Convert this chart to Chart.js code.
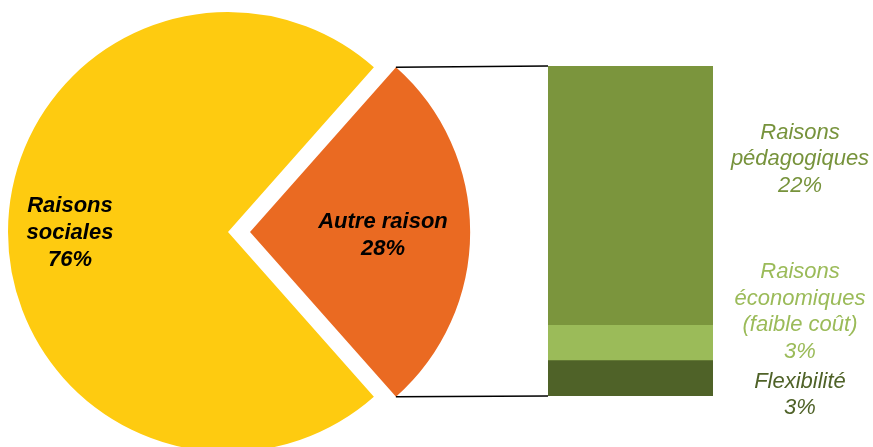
<!DOCTYPE html>
<html>
<head>
<meta charset="utf-8">
<script src="https://cdn.jsdelivr.net/npm/chart.js@4.4.0/dist/chart.umd.min.js"></script>
<style>
body { margin: 0; background: #fff; overflow: hidden; }
#wrap { position: relative; width: 873px; height: 447px; }
canvas { position: absolute; left: 0; top: 0; }
</style>
</head>
<body>
<div id="wrap">
    <canvas id="pieChart" width="873" height="447"></canvas>
    <canvas id="barChart" width="873" height="447"></canvas>
</div>
<script>
// data
const pieLabels = ['Raisons sociales', 'Autre raison'];
const pieValues = [76, 28];
const pieLabelLines = [['Raisons', 'sociales'], ['Autre raison']];

const barLabels = ['Flexibilité', 'Raisons économiques (faible coût)', 'Raisons pédagogiques'];
const barValues = [3, 3, 22];
const barLabelLines = [['Flexibilité'], ['Raisons', 'économiques', '(faible coût)'], ['Raisons', 'pédagogiques']];

// styles / layout
const pieColors = ['#FECB10', '#EA6A22'];
const barColors = ['#4F6228', '#9BBB59', '#7B953D'];
const barTextColors = ['#4F6228', '#9BBB59', '#77933C'];
const FONT = '"Liberation Sans", Arial, sans-serif';
const pieLabelPos = [[-158, 1], [155, 3]];   // offset from pie centre
const barLabelY = [395, 312, 159];            // block centres
const barLabelX = 800;
// chart.js v4 moves an arc by offset/4, so 88 gives the 22px explode
const EXPLODE = 88;

function drawBlock(ctx, lines, x, yc, font, color, lineH) {
    ctx.save();
    ctx.font = font;
    ctx.fillStyle = color;
    ctx.textAlign = 'center';
    ctx.textBaseline = 'middle';
    const y0 = yc - (lines.length - 1) * lineH / 2;
    lines.forEach((t, i) => ctx.fillText(t, x, y0 + i * lineH));
    ctx.restore();
}

const pieTotal = pieValues.reduce((a, b) => a + b, 0);
const otherDeg = pieValues[1] / pieTotal * 360;

const pieLabelPlugin = {
    id: 'pieLabels',
    afterDatasetsDraw(chart) {
        const arcs = chart.getDatasetMeta(0).data;
        arcs.forEach((arc, i) => {
            const lines = pieLabelLines[i].concat([pieValues[i] + '%']);
            drawBlock(chart.ctx, lines, arc.x + pieLabelPos[i][0], arc.y + pieLabelPos[i][1],
                'italic bold 22px ' + FONT, '#000', 27);
        });
    }
};

const pieChart = new Chart(document.getElementById('pieChart'), {
    type: 'pie',
    data: {
        labels: pieLabels,
        datasets: [{
            data: pieValues,
            backgroundColor: pieColors,
            borderWidth: 0,
            offset: [0, EXPLODE],
            clip: false
        }]
    },
    options: {
        responsive: false,
        animation: false,
        radius: 220,
        rotation: 90 + otherDeg / 2,
        layout: { padding: { left: 0, right: 417, top: 17, bottom: 0 } },
        plugins: { legend: { display: false }, tooltip: { enabled: false } }
    },
    plugins: [pieLabelPlugin]
});

// connector lines + labels on the bar canvas
const barExtras = {
    id: 'barExtras',
    afterDraw(chart) {
        const ctx = chart.ctx;
        const arc = pieChart.getDatasetMeta(0).data[1];
        const off = (arc.options.offset || 0) / 4;
        const mid = (arc.startAngle + arc.endAngle) / 2;
        const cx = arc.x + Math.cos(mid) * off;
        const cy = arc.y + Math.sin(mid) * off;
        const r = arc.outerRadius;
        const topBar = chart.getDatasetMeta(barValues.length - 1).data[0];
        const botBar = chart.getDatasetMeta(0).data[0];
        const left = topBar.x - topBar.width / 2;

        ctx.save();
        ctx.strokeStyle = '#000';
        ctx.lineWidth = 1.5;
        ctx.beginPath();
        ctx.moveTo(cx + r * Math.cos(arc.startAngle), cy + r * Math.sin(arc.startAngle));
        ctx.lineTo(left, topBar.y);
        ctx.moveTo(cx + r * Math.cos(arc.endAngle), cy + r * Math.sin(arc.endAngle));
        ctx.lineTo(left, botBar.base);
        ctx.stroke();
        ctx.restore();

        barValues.forEach((v, i) => {
            const lines = barLabelLines[i].concat([v + '%']);
            drawBlock(ctx, lines, barLabelX, barLabelY[i], 'italic 22px ' + FONT, barTextColors[i], 26.5);
        });
    }
};

new Chart(document.getElementById('barChart'), {
    type: 'bar',
    data: {
        labels: [''],
        datasets: barValues.map((v, i) => ({
            label: barLabels[i],
            data: [v],
            backgroundColor: barColors[i],
            borderWidth: 0,
            barPercentage: 1,
            categoryPercentage: 1
        }))
    },
    options: {
        responsive: false,
        animation: false,
        layout: { padding: { left: 548, right: 160, top: 66, bottom: 51 } },
        scales: {
            x: { stacked: true, display: false },
            y: { stacked: true, display: false, min: 0, max: barValues.reduce((a, b) => a + b, 0) }
        },
        plugins: { legend: { display: false }, tooltip: { enabled: false } }
    },
    plugins: [barExtras]
});
</script>
</body>
</html>
